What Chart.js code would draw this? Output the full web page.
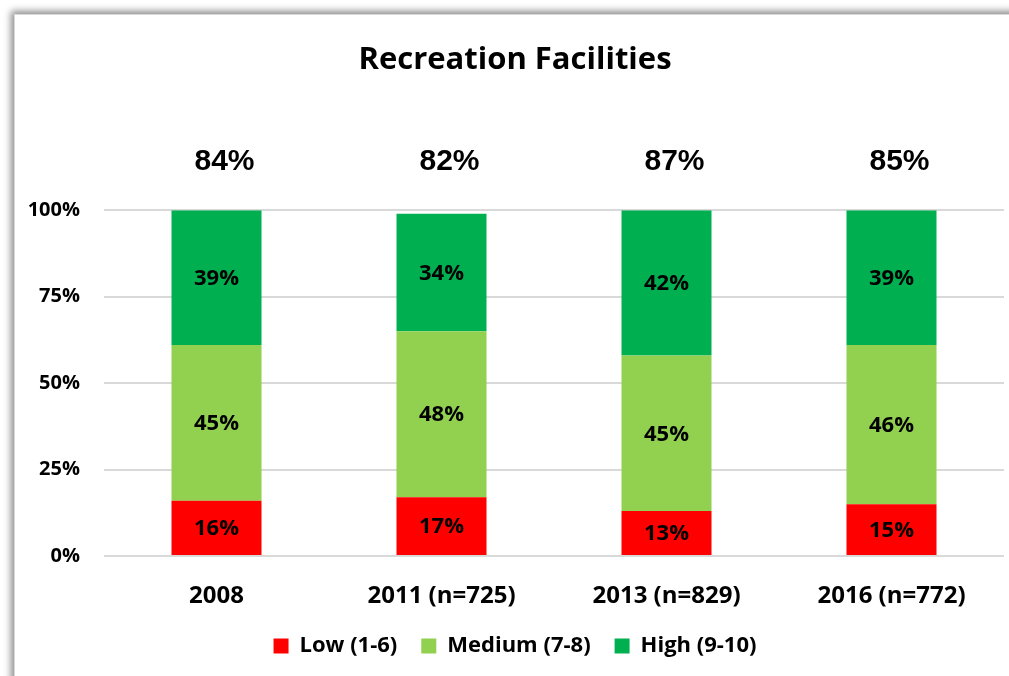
<!DOCTYPE html>
<html>
<head>
<meta charset="utf-8">
<script src="https://cdn.jsdelivr.net/npm/chart.js@4"></script>
<style>
  html, body { margin: 0; padding: 0; background: #fff; overflow: hidden; }
  #frame {
    position: absolute; left: 14px; top: 14px; width: 1040px; height: 700px;
    background: #fff; border: 1px solid #d9d9d9;
    box-shadow: -3px -3px 7px rgba(0,0,0,0.45);
  }
  #wrap { position: absolute; left: 14px; top: 14px; width: 990px; height: 662px; }
</style>
</head>
<body>
<div id="frame"></div>
<div id="wrap"><canvas id="recChart" width="990" height="662"></canvas></div>
<script>
// categories + series
var years = ["2008", "2011 (n=725)", "2013 (n=829)", "2016 (n=772)"];
var low = [16, 17, 13, 15];
var medium = [45, 48, 45, 46];
var high = [39, 34, 42, 39];
var yTicks = [0, 25, 50, 75, 100];

var calibri = "'Open Sans', Lato, sans-serif";

// labels in the middle of every segment
var segLabels = {
  id: "segLabels",
  afterDatasetsDraw: function (chart) {
    var ctx = chart.ctx;
    ctx.save();
    ctx.fillStyle = "#000";
    ctx.font = "bold 22px " + calibri;
    ctx.textAlign = "center";
    ctx.textBaseline = "middle";
    chart.data.datasets.forEach(function (ds, i) {
      chart.getDatasetMeta(i).data.forEach(function (bar, j) {
        var mid = (bar.y + bar.base) / 2;
        ctx.fillText(ds.data[j] + "%", bar.x, mid + 1);
      });
    });
    // totals above the bars (medium + high), sit a bit right of the bar centre
    ctx.font = "bold 30px 'Liberation Sans', Arial, sans-serif";
    var xs = chart.scales.x;
    years.forEach(function (y, j) {
      ctx.fillText((medium[j] + high[j]) + "%", xs.getPixelForValue(j) + 8, chart.chartArea.top - 48);
    });
    ctx.restore();
  }
};

var ctx = document.getElementById("recChart").getContext("2d");
var myChart = new Chart(ctx, {
  type: "bar",
  data: {
    labels: years,
    datasets: [
      { label: "Low (1-6)", data: low, backgroundColor: "#ff0000" },
      { label: "Medium (7-8)", data: medium, backgroundColor: "#92d050" },
      { label: "High (9-10)", data: high, backgroundColor: "#00b050" }
    ]
  },
  options: {
    responsive: false,
    animation: false,
    barPercentage: 0.4,
    categoryPercentage: 1,
    layout: { padding: { left: 12, right: 0, top: 0, bottom: 9 } },
    plugins: {
      title: {
        display: true,
        text: "Recreation Facilities",
        color: "#000",
        font: { family: calibri, size: 31, weight: "bold" },
        padding: { top: 28, bottom: 131 }
      },
      legend: {
        position: "bottom",
        labels: {
          color: "#000",
          font: { family: calibri, size: 22, weight: "bold" },
          boxWidth: 15,
          boxHeight: 15,
          padding: 24
        }
      },
      tooltip: { enabled: false }
    },
    scales: {
      x: {
        stacked: true,
        afterFit: function (s) { s.height = 55; },
        grid: { display: false, drawTicks: false },
        border: { display: false },
        ticks: { color: "#000", font: { family: calibri, size: 24, weight: "bold" }, padding: 26, maxRotation: 0 }
      },
      y: {
        stacked: true,
        min: 0,
        max: 100,
        afterFit: function (s) { s.width = 78; },
        afterBuildTicks: function (s) { s.ticks = yTicks.map(function (v) { return { value: v }; }); },
        grid: { color: "#d9d9d9", lineWidth: 2, drawTicks: false },
        border: { display: false },
        ticks: {
          color: "#000",
          padding: 24,
          font: { family: calibri, size: 20, weight: "bold" },
          callback: function (v) { return v + "%"; }
        }
      }
    }
  },
  plugins: [segLabels]
});
</script>
</body>
</html>
